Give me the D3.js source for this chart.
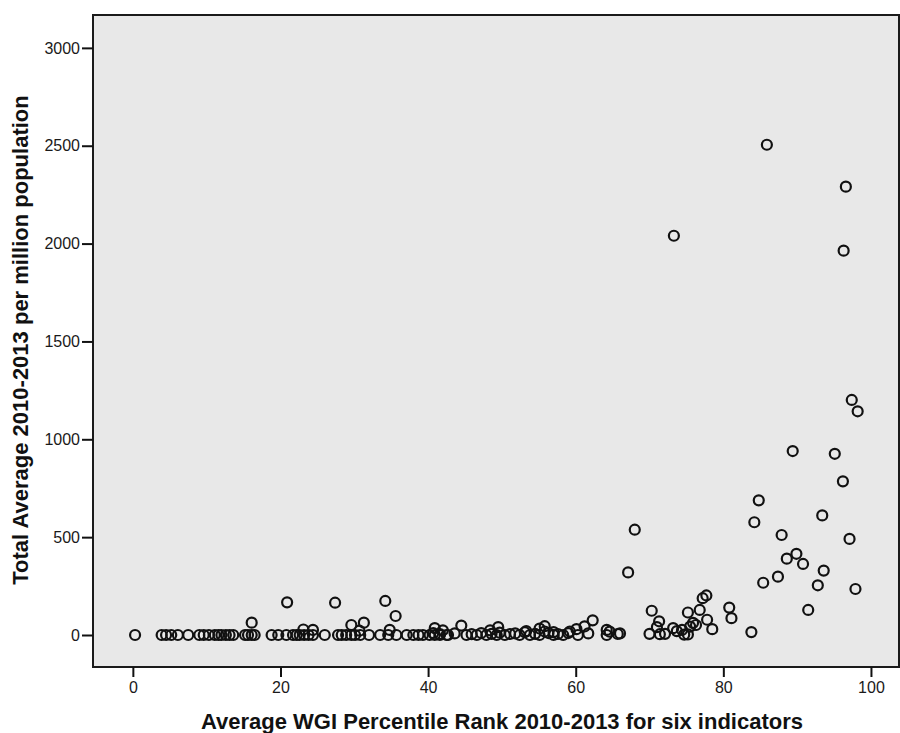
<!DOCTYPE html>
<html>
<head>
<meta charset="utf-8">
<script src="https://cdn.jsdelivr.net/npm/d3@7"></script>
<style>
  body { margin: 0; background: #fff; }
  svg { display: block; }
  .tick text { font-family: "Liberation Sans", Arial, sans-serif; font-size: 16px; fill: #1a1a1a; }
  .tick line { stroke: #111; stroke-width: 2; }
  .label { font-family: "Liberation Sans", Arial, sans-serif; font-size: 22px; font-weight: bold; fill: #111; }
</style>
</head>
<body>
<svg width="900" height="733"></svg>
<script>
// x: Average WGI Percentile Rank 2010-2013, y: Total Average 2010-2013 per million population
var wgiRank = [
    0.3, 3.9, 4.5, 5.2, 6.1, 7.5, 9.0, 9.6, 10.3, 11.1, 11.6, 12.0, 12.6, 13.1, 13.6,
    15.2, 15.6, 16.1, 16.5, 18.8, 19.7, 20.8, 21.7, 22.2, 22.6, 23.2, 23.8, 24.4, 26.0,
    27.8, 28.3, 28.9, 29.6, 30.1, 30.8, 32.0, 33.5, 34.6, 35.7, 37.1, 38.0, 38.7, 39.3,
    40.2, 40.9, 41.6, 42.5,
    40.7, 41.6, 42.7, 43.6, 45.2, 45.9, 46.6, 47.2, 47.9, 48.6, 49.3, 49.7, 50.4, 51.1,
    51.8, 52.4, 53.1, 53.8, 54.5, 55.1, 55.8, 56.3, 57.0, 57.6, 58.3, 59.0, 60.3, 61.7, 64.2,
    16.1, 20.9, 27.4, 34.2, 35.6, 29.6, 31.3, 23.1, 24.4, 34.8, 40.9, 30.7,
    44.5, 49.5, 55.8, 61.2, 62.3, 60.1, 59.2, 42.0, 48.4, 53.3, 55.1, 57.0,
    64.2, 64.6, 66.0, 65.7, 67.1, 68.0,
    70.0, 70.3, 71.3, 71.0, 71.4, 72.1, 73.2, 73.7, 74.4, 74.7, 75.2, 75.5, 75.9, 75.2,
    76.3, 76.8, 77.2, 77.7, 77.8, 78.5, 80.8, 81.1, 83.8,
    84.2, 84.8, 85.4, 85.9, 87.4, 87.9, 88.6, 89.4, 89.9, 90.8, 91.5, 92.8, 93.4, 93.6,
    95.1, 96.2, 96.3, 96.6, 97.1, 97.4, 97.9, 98.2, 73.3
];
var totalAvg = [
    0, 0, 0, 0, 0, 0, 0, 0, 0, 0, 0, 0, 0, 0, 0,
    0, 0, 0, 0, 0, 0, 0, 0, 0, 0, 0, 0, 0, 0,
    0, 0, 0, 0, 0, 0, 0, 0, 0, 0, 0, 0, 0, 0,
    0, 0, 0, 0,
    10, 5, 0, 8, 0, 4, 0, 10, 0, 6, 0, 12, 0, 5,
    8, 0, 14, 0, 6, 0, 18, 10, 0, 5, 0, 10, 0, 8, 0,
    63, 167, 165, 174, 97, 51, 63, 28, 26, 26, 35, 22,
    48, 40, 45, 44, 75, 30, 18, 24, 24, 20, 33, 15,
    26, 17, 8, 5, 320, 538,
    6, 124, 70, 40, 4, 6, 35, 20, 26, 2, 115, 43, 62, 3,
    51, 128, 188, 202, 78, 30, 140, 86, 15,
    576, 688, 267, 2505, 298, 511, 390, 940, 415, 363, 128, 254, 611, 329,
    926, 785, 1964, 2291, 491, 1201, 235, 1143, 2040
];
var xTicks = [0, 20, 40, 60, 80, 100];
var yTicks = [0, 500, 1000, 1500, 2000, 2500, 3000];

var xTitle = "Average WGI Percentile Rank 2010-2013 for six indicators";
var yTitle = "Total Average 2010-2013 per million population";

var svg = d3.select("svg");

var plotLeft = 93, plotRight = 899, plotTop = 15, plotBottom = 667;

var x = d3.scaleLinear().domain([-5.4, 103.8]).range([plotLeft, plotRight]);
var y = d3.scaleLinear().domain([-163.5, 3168]).range([plotBottom, plotTop]);

// plot area
svg.append("rect")
    .attr("x", plotLeft)
    .attr("y", plotTop)
    .attr("width", plotRight - plotLeft)
    .attr("height", plotBottom - plotTop)
    .style("fill", "#e8e8e8")
    .style("stroke", "#1a1a1a")
    .style("stroke-width", 2);

// axes
var xAxis = svg.append("g")
    .attr("transform", "translate(0," + plotBottom + ")")
    .call(d3.axisBottom(x).tickValues(xTicks).tickFormat(d3.format("d")).tickSize(10).tickPadding(5));
xAxis.select(".domain").remove();

var yAxis = svg.append("g")
    .attr("transform", "translate(" + plotLeft + ",0)")
    .call(d3.axisLeft(y).tickValues(yTicks).tickFormat(d3.format("d")).tickSize(11).tickPadding(2));
yAxis.select(".domain").remove();

// points
var pts = d3.range(wgiRank.length).map(function(i) {
    return {x: wgiRank[i], y: totalAvg[i]};
});

svg.selectAll("circle")
    .data(pts)
    .enter()
    .append("circle")
    .attr("cx", function(d) { return x(d.x); })
    .attr("cy", function(d) { return y(d.y); })
    .attr("r", 5)
    .style("fill", "none")
    .style("stroke", "#111")
    .style("stroke-width", 2.2);

// titles
svg.append("text")
    .attr("class", "label")
    .attr("x", 502)
    .attr("y", 729)
    .attr("text-anchor", "middle")
    .text(xTitle);

svg.append("text")
    .attr("class", "label")
    .attr("transform", "translate(28,340) rotate(-90)")
    .attr("text-anchor", "middle")
    .text(yTitle);
</script>
</body>
</html>
